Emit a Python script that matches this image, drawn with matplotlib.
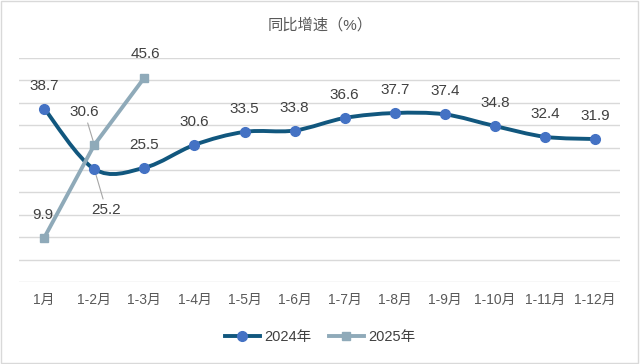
import matplotlib.pyplot as plt
from matplotlib.path import Path
from matplotlib.patches import PathPatch, Rectangle
from matplotlib.lines import Line2D
import numpy as np

plt.rcParams['font.family'] = ['Liberation Sans', 'Noto Sans CJK SC', 'DejaVu Sans']

months = ['1月', '1-2月', '1-3月', '1-4月', '1-5月', '1-6月', '1-7月',
          '1-8月', '1-9月', '1-10月', '1-11月', '1-12月']
y2024 = [38.7, 25.2, 25.5, 30.6, 33.5, 33.8, 36.6, 37.7, 37.4, 34.8, 32.4, 31.9]
y2025 = [9.9, 30.6, 45.6]

c2024_line = '#11577E'
c2024_mark = '#4472C4'
c2025 = '#8FAAB9'
txt = '#404040'
fs = 11


def smooth_path(xs, ys):
    # bezier segments like excel's smoothed line (catmull-rom style)
    pts = np.column_stack([xs, ys]).astype(float)
    n = len(pts)
    verts = [pts[0]]
    codes = [Path.MOVETO]
    for i in range(n - 1):
        p0 = pts[i - 1] if i > 0 else pts[i]
        p1 = pts[i]
        p2 = pts[i + 1]
        p3 = pts[i + 2] if i + 2 < n else pts[i + 1]
        verts += [p1 + (p2 - p0) / 6, p2 - (p3 - p1) / 6, p2]
        codes += [Path.CURVE4] * 3
    return Path(verts, codes)


fig = plt.figure(figsize=(6.4, 3.64), dpi=100)
ax = fig.add_axes([0.03, 0.225, 0.939, 0.616])

x = np.arange(len(months))
ax.add_patch(PathPatch(smooth_path(x, y2024), facecolor='none',
                       edgecolor=c2024_line, lw=2.8, zorder=3, capstyle='round'))
ax.plot(x, y2024, ls='none', marker='o', ms=7, color=c2024_mark, zorder=4)
ax.plot(x[:len(y2025)], y2025, color=c2025, lw=2.8, marker='s', ms=6, zorder=5)

ax.set_xlim(-0.5, len(months) - 0.5)
ax.set_ylim(0, 50)
ax.set_yticks(np.arange(0, 51, 5))
ax.yaxis.grid(True, color='#d9d9d9', lw=1)
ax.set_axisbelow(True)
for s in ax.spines.values():
    s.set_visible(False)
ax.tick_params(axis='y', left=False, labelleft=False)
ax.tick_params(axis='x', length=0, pad=8, labelsize=10, labelcolor='#595959')
ax.set_xticks(x)
ax.set_xticklabels(months)

# data labels, 2024
for i, v in enumerate(y2024):
    if i == 1:
        ax.annotate('%.1f' % v, xy=(i, v), xytext=(12, -41), textcoords='offset pixels',
                    ha='center', va='center', fontsize=fs, color=txt,
                    arrowprops=dict(arrowstyle='-', color='#a6a6a6', lw=0.8,
                                    shrinkA=1, shrinkB=3))
    else:
        ax.annotate('%.1f' % v, xy=(i, v), xytext=(0, 23), textcoords='offset pixels',
                    ha='center', va='center', fontsize=fs, color=txt)

# data labels, 2025
offs = [(-1, 23), (-10, 33), (1, 24)]
for i, v in enumerate(y2025):
    kw = {}
    if i == 1:
        kw['arrowprops'] = dict(arrowstyle='-', color='#a6a6a6', lw=0.8,
                                shrinkA=1, shrinkB=3)
    ax.annotate('%.1f' % v, xy=(i, v), xytext=offs[i], textcoords='offset pixels',
                ha='center', va='center', fontsize=fs, color=txt, **kw)

fig.text(0.5, 0.932, '同比增速（%）', ha='center', va='center', fontsize=11, color='#595959')

handles = [Line2D([], [], color=c2024_line, lw=2.8, marker='o', ms=7,
                  markerfacecolor=c2024_mark, markeredgecolor=c2024_mark),
           Line2D([], [], color=c2025, lw=2.8, marker='s', ms=6)]
fig.legend(handles, ['2024年', '2025年'], loc='center', bbox_to_anchor=(0.5, 0.073),
           ncol=2, frameon=False, fontsize=10.5, labelcolor=txt,
           handlelength=2.4, columnspacing=1.2, handletextpad=0.3)

fig.add_artist(Rectangle((0.002, 0.004), 0.995, 0.992, transform=fig.transFigure,
                         fill=False, edgecolor='#d9d9d9', lw=1))

plt.savefig('out.png')
plt.close()
